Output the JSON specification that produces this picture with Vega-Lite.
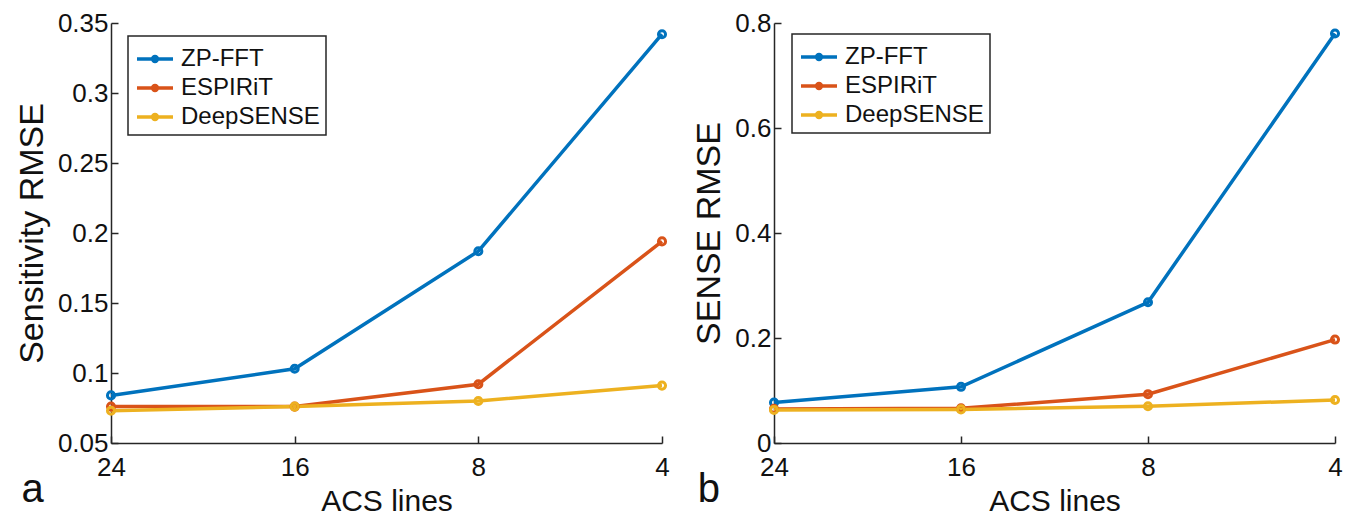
{
  "$schema": "https://vega.github.io/schema/vega-lite/v6.json",
  "padding": {"top": 10, "left": 15, "right": 5, "bottom": 5},
  "background": "white",
  "datasets": {
    "sens": [
      {"acs": 24, "method": "ZP-FFT", "rmse": 0.084},
      {"acs": 16, "method": "ZP-FFT", "rmse": 0.103},
      {"acs": 8, "method": "ZP-FFT", "rmse": 0.187},
      {"acs": 4, "method": "ZP-FFT", "rmse": 0.342},
      {"acs": 24, "method": "ESPIRiT", "rmse": 0.076},
      {"acs": 16, "method": "ESPIRiT", "rmse": 0.076},
      {"acs": 8, "method": "ESPIRiT", "rmse": 0.092},
      {"acs": 4, "method": "ESPIRiT", "rmse": 0.194},
      {"acs": 24, "method": "DeepSENSE", "rmse": 0.073},
      {"acs": 16, "method": "DeepSENSE", "rmse": 0.076},
      {"acs": 8, "method": "DeepSENSE", "rmse": 0.080},
      {"acs": 4, "method": "DeepSENSE", "rmse": 0.091}
    ],
    "sense": [
      {"acs": 24, "method": "ZP-FFT", "rmse": 0.077},
      {"acs": 16, "method": "ZP-FFT", "rmse": 0.107},
      {"acs": 8, "method": "ZP-FFT", "rmse": 0.268},
      {"acs": 4, "method": "ZP-FFT", "rmse": 0.780},
      {"acs": 24, "method": "ESPIRiT", "rmse": 0.065},
      {"acs": 16, "method": "ESPIRiT", "rmse": 0.066},
      {"acs": 8, "method": "ESPIRiT", "rmse": 0.093},
      {"acs": 4, "method": "ESPIRiT", "rmse": 0.197},
      {"acs": 24, "method": "DeepSENSE", "rmse": 0.063},
      {"acs": 16, "method": "DeepSENSE", "rmse": 0.064},
      {"acs": 8, "method": "DeepSENSE", "rmse": 0.070},
      {"acs": 4, "method": "DeepSENSE", "rmse": 0.082}
    ]
  },
  "config": {
    "view": {"stroke": null},
    "font": "Liberation Sans",
    "axis": {
      "grid": false,
      "domainColor": "#262626",
      "domainWidth": 1.5,
      "tickColor": "#262626",
      "tickWidth": 1.5,
      "tickSize": -7,
      "labelFont": "Liberation Sans",
      "labelFontSize": 26,
      "labelColor": "#111111",
      "titleFont": "Liberation Sans",
      "titleFontSize": 30,
      "titleFontWeight": "normal",
      "titleColor": "#111111"
    },
    "legend": {
      "labelFont": "Liberation Sans",
      "labelFontSize": 24,
      "labelColor": "#111111",
      "strokeColor": "#262626",
      "strokeWidth": 1.5,
      "fillColor": "white",
      "padding": 6,
      "rowPadding": 0,
      "labelOffset": 9,
      "symbolOffset": 4,
      "symbolType": "M-1.2,0H1.2M-0.16,0A0.16,0.16 0 1,0 0.16,0A0.16,0.16 0 1,0 -0.16,0",
      "symbolSize": 900,
      "symbolStrokeWidth": 3.5
    },
    "title": {"font": "Liberation Sans", "fontWeight": "normal", "fontSize": 40, "color": "#111111"}
  },
  "resolve": {"scale": {"color": "independent"}, "legend": {"color": "independent"}},
  "spacing": 20,
  "hconcat": [
    {
      "width": 551,
      "height": 420,
      "data": {"name": "sens"},
      "title": {"text": "a", "orient": "bottom", "anchor": "start", "frame": "bounds", "dy": -50, "dx": 6},
      "encoding": {
        "x": {"field": "acs", "type": "ordinal", "sort": [24, 16, 8, 4], "scale": {"type": "point", "padding": 0},
              "axis": {"title": "ACS lines", "labelAngle": 0, "labelPadding": 18, "titlePadding": 6}},
        "y": {"field": "rmse", "type": "quantitative", "scale": {"domain": [0.05, 0.35], "nice": false, "zero": false},
              "axis": {"title": "Sensitivity RMSE", "titleFontSize": 34, "values": [0.05, 0.1, 0.15, 0.2, 0.25, 0.3, 0.35], "format": "~g", "labelPadding": 10, "titlePadding": 8}},
        "color": {"field": "method", "type": "nominal",
                  "scale": {"domain": ["ZP-FFT", "ESPIRiT", "DeepSENSE"], "range": ["#0072BD", "#D95319", "#EDB120"]},
                  "legend": {"title": null, "orient": "none", "legendX": 17, "legendY": 13}}
      },
      "layer": [
        {"mark": {"type": "line", "strokeWidth": 3.5}},
        {"mark": {"type": "point", "filled": false, "size": 50, "strokeWidth": 3, "opacity": 1}}
      ]
    },
    {
      "width": 561,
      "height": 420,
      "data": {"name": "sense"},
      "title": {"text": "b", "orient": "bottom", "anchor": "start", "frame": "bounds", "dy": -50, "dx": 5},
      "encoding": {
        "x": {"field": "acs", "type": "ordinal", "sort": [24, 16, 8, 4], "scale": {"type": "point", "padding": 0},
              "axis": {"title": "ACS lines", "labelAngle": 0, "labelPadding": 18, "titlePadding": 6}},
        "y": {"field": "rmse", "type": "quantitative", "scale": {"domain": [0, 0.8], "nice": false},
              "axis": {"title": "SENSE RMSE", "titleFontSize": 34, "values": [0, 0.2, 0.4, 0.6, 0.8], "format": "~g", "labelPadding": 10, "titlePadding": 8}},
        "color": {"field": "method", "type": "nominal",
                  "scale": {"domain": ["ZP-FFT", "ESPIRiT", "DeepSENSE"], "range": ["#0072BD", "#D95319", "#EDB120"]},
                  "legend": {"title": null, "orient": "none", "legendX": 18, "legendY": 11}}
      },
      "layer": [
        {"mark": {"type": "line", "strokeWidth": 3.5}},
        {"mark": {"type": "point", "filled": false, "size": 50, "strokeWidth": 3, "opacity": 1}}
      ]
    }
  ]
}
